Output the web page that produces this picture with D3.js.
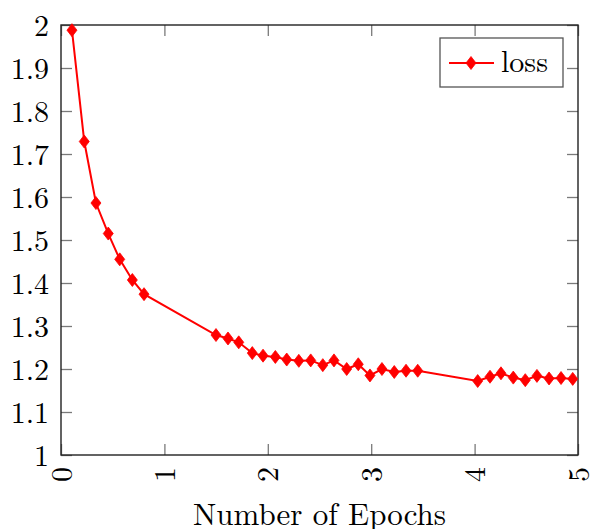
<!DOCTYPE html>
<html>
<head>
<meta charset="utf-8">
<script src="https://cdn.jsdelivr.net/npm/d3@7"></script>
<style>
  html, body { margin: 0; padding: 0; background: #fff; }
  svg { display: block; }
  text { font-family: "Latin Modern Roman", "Liberation Serif", "DejaVu Serif", serif; fill: #000; }
</style>
</head>
<body>
<div id="chart"></div>
<script>
// Training loss per (fractional) epoch
const epochs = [
  0.106, 0.225, 0.338, 0.457, 0.568, 0.690, 0.803,
  1.499, 1.615, 1.719, 1.850, 1.954, 2.073, 2.183, 2.300, 2.415, 2.532,
  2.640, 2.763, 2.875, 2.988, 3.104, 3.223, 3.337, 3.450,
  4.030, 4.149, 4.255, 4.374, 4.490, 4.603, 4.720, 4.836, 4.949
];
const loss = [
  1.988, 1.729, 1.586, 1.515, 1.455, 1.407, 1.374,
  1.279, 1.271, 1.262, 1.237, 1.231, 1.228, 1.222, 1.219, 1.220, 1.209,
  1.220, 1.200, 1.211, 1.185, 1.200, 1.193, 1.196, 1.196,
  1.172, 1.182, 1.190, 1.180, 1.174, 1.184, 1.178, 1.179, 1.177
];
const xTicks = [0, 1, 2, 3, 4, 5];
const yTicks = [1, 1.1, 1.2, 1.3, 1.4, 1.5, 1.6, 1.7, 1.8, 1.9, 2];
const seriesName = "loss";

const W = 590, H = 529;
const margin = { top: 25, right: 12, bottom: 74, left: 61 };
const iw = W - margin.left - margin.right;
const ih = H - margin.top - margin.bottom;
const RED = "#ff0000";
const FS = 30;

const svg = d3.select("#chart").append("svg")
  .attr("width", W).attr("height", H);

const g = svg.append("g").attr("transform", `translate(${margin.left},${margin.top})`);

const x = d3.scaleLinear().domain([0, 5]).range([0, iw]);
const y = d3.scaleLinear().domain([1, 2]).range([ih, 0]);

const tickLen = 11;
const tickColor = "#7a7a7a";

// ticks pointing inward on all four sides
const gx = g.append("g").attr("transform", `translate(0,${ih})`)
  .call(d3.axisBottom(x).tickValues(xTicks).tickSize(-tickLen).tickFormat(""));
const gxTop = g.append("g")
  .call(d3.axisTop(x).tickValues(xTicks).tickSize(-tickLen).tickFormat(""));
const gy = g.append("g")
  .call(d3.axisLeft(y).tickValues(yTicks).tickSize(-tickLen).tickFormat(""));
const gyR = g.append("g").attr("transform", `translate(${iw},0)`)
  .call(d3.axisRight(y).tickValues(yTicks).tickSize(-tickLen).tickFormat(""));

[gx, gxTop, gy, gyR].forEach(a => {
  a.select(".domain").remove();
  a.selectAll(".tick line").attr("stroke", tickColor).attr("stroke-width", 1.3);
});

// tick labels
g.append("g").selectAll("text").data(yTicks).join("text")
  .attr("x", -12)
  .attr("y", d => y(d))
  .attr("dy", "0.35em")
  .attr("text-anchor", "end")
  .attr("font-size", FS)
  .text(d => d3.format("~g")(d));

g.append("g").selectAll("text").data(xTicks).join("text")
  .attr("transform", d => `translate(${x(d)},${ih + 12}) rotate(-90)`)
  .attr("dy", "0.35em")
  .attr("text-anchor", "end")
  .attr("font-size", FS)
  .text(d => d);

// frame
g.append("rect")
  .attr("width", iw).attr("height", ih)
  .attr("fill", "none").attr("stroke", "#222").attr("stroke-width", 1.4);

// x axis title
svg.append("text")
  .attr("x", margin.left + iw / 2)
  .attr("y", 525)
  .attr("text-anchor", "middle")
  .attr("font-size", 31)
  .text("Number of Epochs");

// series
const pts = epochs.map((e, i) => ({ x: e, y: loss[i] }));
const line = d3.line().x(d => x(d.x)).y(d => y(d.y));

g.append("path").datum(pts)
  .attr("d", line)
  .attr("fill", "none").attr("stroke", RED).attr("stroke-width", 2);

const diamond = "M0,-6.5L5,0L0,6.5L-5,0Z";
g.append("g").selectAll("path").data(pts).join("path")
  .attr("transform", d => `translate(${x(d.x)},${y(d.y)})`)
  .attr("d", diamond)
  .attr("fill", RED).attr("stroke", RED).attr("stroke-width", 0.8);

// legend
const lg = svg.append("g").attr("transform", "translate(440,38)");
lg.append("rect")
  .attr("width", 123).attr("height", 49)
  .attr("fill", "#fff").attr("stroke", "#555").attr("stroke-width", 1.3);
lg.append("line")
  .attr("x1", 9).attr("x2", 54).attr("y1", 25).attr("y2", 25)
  .attr("stroke", RED).attr("stroke-width", 2);
lg.append("path")
  .attr("transform", "translate(31,25)")
  .attr("d", diamond)
  .attr("fill", RED).attr("stroke", RED).attr("stroke-width", 0.8);
lg.append("text")
  .attr("x", 61).attr("y", 34)
  .attr("font-size", FS)
  .text(seriesName);
</script>
</body>
</html>
